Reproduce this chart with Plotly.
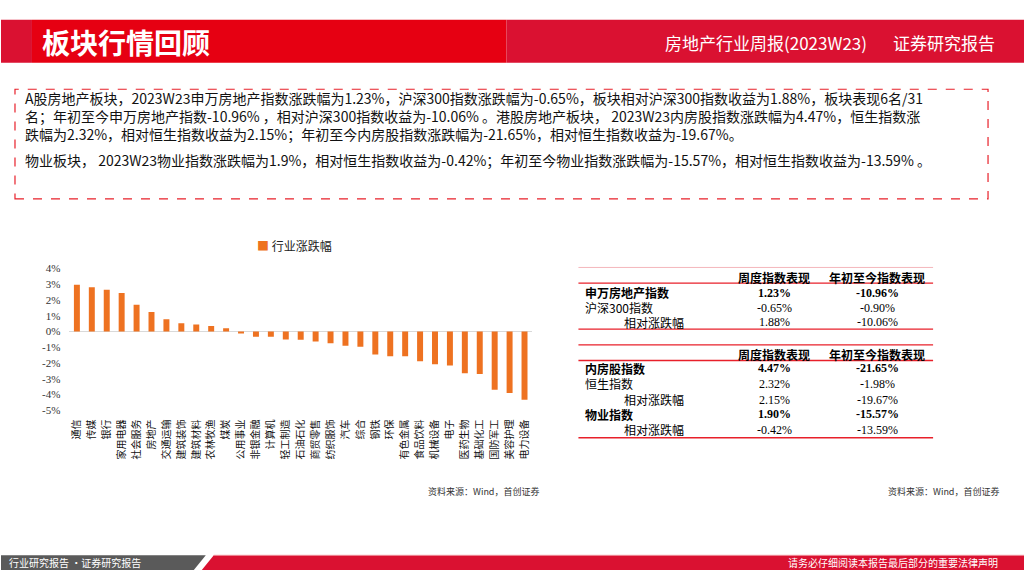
import plotly.graph_objects as go

# ---------------- data ----------------
categories = ["通信", "传媒", "银行", "家用电器", "社会服务", "房地产", "交通运输", "建筑装饰",
              "建筑材料", "农林牧渔", "煤炭", "公用事业", "非银金融", "计算机", "轻工制造", "石油石化",
              "商贸零售", "纺织服饰", "汽车", "综合", "钢铁", "环保", "有色金属", "食品饮料",
              "机械设备", "电子", "医药生物", "基础化工", "国防军工", "美容护理", "电力设备"]
change_pct = [2.96, 2.81, 2.65, 2.44, 1.69, 1.23, 0.77, 0.52, 0.44, 0.35, 0.21, -0.06,
              -0.33, -0.33, -0.50, -0.52, -0.63, -0.75, -0.90, -0.96, -1.46, -1.56, -1.56,
              -1.88, -2.08, -2.15, -2.65, -2.69, -3.69, -3.90, -4.33]
series_name = "行业涨跌幅"
y_ticks = [-5, -4, -3, -2, -1, 0, 1, 2, 3, 4]
y_ticktext = [f"{v}%" for v in y_ticks]

table_header = ["周度指数表现", "年初至今指数表现"]
tbl1_rows = ["申万房地产指数", "沪深300指数", "相对涨跌幅"]
tbl1_week = ["1.23%", "-0.65%", "1.88%"]
tbl1_ytd = ["-10.96%", "-0.90%", "-10.06%"]
tbl1_bold = [True, False, False]
tbl1_indent = [False, False, True]
tbl2_rows = ["内房股指数", "恒生指数", "相对涨跌幅", "物业指数", "相对涨跌幅"]
tbl2_week = ["4.47%", "2.32%", "2.15%", "1.90%", "-0.42%"]
tbl2_ytd = ["-21.65%", "-1.98%", "-19.67%", "-15.57%", "-13.59%"]
tbl2_bold = [True, False, False, True, False]
tbl2_indent = [False, False, True, False, True]

title_text = "板块行情回顾"
header_right_1 = "房地产行业周报(2023W23)"
header_right_2 = "证券研究报告"
body_para1 = [
    "A股房地产板块，2023W23申万房地产指数涨跌幅为1.23%，沪深300指数涨跌幅为-0.65%，板块相对沪深300指数收益为1.88%，板块表现6名/31",
    "名；年初至今申万房地产指数-10.96% ，相对沪深300指数收益为-10.06% 。港股房地产板块， 2023W23内房股指数涨跌幅为4.47%，恒生指数涨",
    "跌幅为2.32%，相对恒生指数收益为2.15%；年初至今内房股指数涨跌幅为-21.65%，相对恒生指数收益为-19.67%。",
]
body_para2 = "物业板块， 2023W23物业指数涨跌幅为1.9%，相对恒生指数收益为-0.42%；年初至今物业指数涨跌幅为-15.57%，相对恒生指数收益为-13.59% 。"
source_text = "资料来源：Wind，首创证券"
footer_left = "行业研究报告 ·证券研究报告"
footer_right = "请务必仔细阅读本报告最后部分的重要法律声明"

# ---------------- helpers (pixel -> paper) ----------------
W, H = 1024, 576
def px(x):
    return x / W
def py(y):
    return 1 - y / H

CJK = "Noto Sans CJK SC"
SERIF = "Liberation Serif, Noto Sans CJK SC"
BAR_COLOR = "#EE7221"
RED = "#E60012"
CRIMSON = "#DA1131"

fig = go.Figure()
fig.add_trace(go.Bar(x=categories, y=change_pct, name=series_name,
                     marker=dict(color=BAR_COLOR, line=dict(width=0)),
                     showlegend=False))

shapes = []
annotations = []

def rect(x0, y0, x1, y1, color):
    shapes.append(dict(type="rect", xref="paper", yref="paper", x0=px(x0), x1=px(x1),
                       y0=py(y1), y1=py(y0), fillcolor=color, line=dict(width=0), layer="below"))

def hline(x0, x1, y, color, width=1.2):
    shapes.append(dict(type="line", xref="paper", yref="paper", x0=px(x0), x1=px(x1),
                       y0=py(y), y1=py(y), line=dict(color=color, width=width)))

def text(x, y, s, size, color="#000000", family=CJK, xanchor="left", bold=False, yanchor="middle"):
    if bold:
        s = f"<b>{s}</b>"
    annotations.append(dict(xref="paper", yref="paper", x=px(x), y=py(y), text=s,
                            showarrow=False, xanchor=xanchor, yanchor=yanchor, align="left",
                            font=dict(size=size, color=color, family=family)))

# header band
rect(0, 14, 31, 58, CRIMSON)
rect(31, 14, 506, 58, RED)
rect(506, 14, 1024, 58, CRIMSON)
text(39, 37, title_text, 28, "#FFFFFF", bold=True)
text(869, 37, header_right_1, 17, "#FFFFFF", xanchor="right")
text(997, 37, header_right_2, 17, "#FFFFFF", xanchor="right")

# dashed text box
shapes.append(dict(type="rect", xref="paper", yref="paper", x0=px(14), x1=px(988),
                   y0=py(197), y1=py(85), line=dict(color="#E8202A", width=1.2, dash="dash")))
text(22, 112.5, "<br>".join(body_para1), 14, "#111111")
text(22, 157, body_para2, 14, "#111111")

# legend (custom)
text(254, 245, f"<span style='color:{BAR_COLOR}'>■</span> {series_name}", 12, "#222222")

# source notes
text(425, 496, source_text, 9, "#333333")
text(886, 496, source_text, 9, "#333333")

# table 1
TL, TR = 578, 933
C1, C2 = 774, 877
hline(TL, TR, 267, "#F4B6BC", 1)
text(C1, 277, table_header[0], 12, bold=True, xanchor="center")
text(C2, 277, table_header[1], 12, bold=True, xanchor="center")
hline(TL, TR, 283, "#E8202A", 1.4)
for i, yy in enumerate([293, 308, 323]):
    xl = 622 if tbl1_indent[i] else 583
    text(xl, yy, tbl1_rows[i], 12, bold=tbl1_bold[i])
    text(C1, yy, tbl1_week[i], 12, family=SERIF, xanchor="center", bold=tbl1_bold[i])
    text(C2, yy, tbl1_ytd[i], 12, family=SERIF, xanchor="center", bold=tbl1_bold[i])
hline(TL, TR, 330, "#E8202A", 1.4)

# table 2
hline(TL, TR, 346, "#E8202A", 1.2)
text(C1, 356, table_header[0], 12, bold=True, xanchor="center")
text(C2, 356, table_header[1], 12, bold=True, xanchor="center")
hline(TL, TR, 362, "#E8202A", 1.4)
for i, yy in enumerate([370, 386, 402, 417, 433]):
    xl = 622 if tbl2_indent[i] else 583
    text(xl, yy, tbl2_rows[i], 12, bold=tbl2_bold[i])
    text(C1, yy, tbl2_week[i], 12, family=SERIF, xanchor="center", bold=tbl2_bold[i])
    text(C2, yy, tbl2_ytd[i], 12, family=SERIF, xanchor="center", bold=tbl2_bold[i])
hline(TL, TR, 441, "#E8202A", 1.4)

# footer band
def path_poly(points, color):
    d = "M " + " L ".join(f"{px(x)},{py(y)}" for x, y in points) + " Z"
    shapes.append(dict(type="path", xref="paper", yref="paper", path=d,
                       fillcolor=color, line=dict(width=0), layer="below"))

path_poly([(0, 561), (205, 561), (193, 576), (0, 576)], "#5A5A5A")
path_poly([(213, 561), (1024, 561), (1024, 576), (201, 576)], CRIMSON)
hline(213, 1024, 561, "#F08C98", 1)
text(6, 568.5, footer_left, 10, "#FFFFFF")
text(1000, 568.5, footer_right, 10, "#FFFFFF", xanchor="right")

fig.update_layout(
    width=W, height=H,
    margin=dict(l=0, r=0, t=0, b=0),
    paper_bgcolor="#FFFFFF", plot_bgcolor="#FFFFFF",
    bargap=0.6,
    shapes=shapes, annotations=annotations,
    xaxis=dict(domain=[px(68.5), px(531.5)], range=[-0.5, len(categories) - 0.5],
               tickangle=-90, showgrid=False, showline=False, zeroline=False,
               tickfont=dict(size=10, family=CJK, color="#111111"),
               ticks="", ticklabelstandoff=6),
    yaxis=dict(domain=[py(413), py(268)], range=[-5, 4], tickvals=y_ticks, ticktext=y_ticktext,
               showgrid=False, showline=False, zeroline=True, zerolinecolor="#D9D9D9",
               zerolinewidth=1, ticks="", ticklabelstandoff=8,
               tickfont=dict(size=11, family="Liberation Serif", color="#333333")),
    font=dict(family=CJK),
)

fig.write_html("out.html", config={"displayModeBar": False},
               post_script="document.body.style.margin='0px';document.body.style.overflow='hidden';")
